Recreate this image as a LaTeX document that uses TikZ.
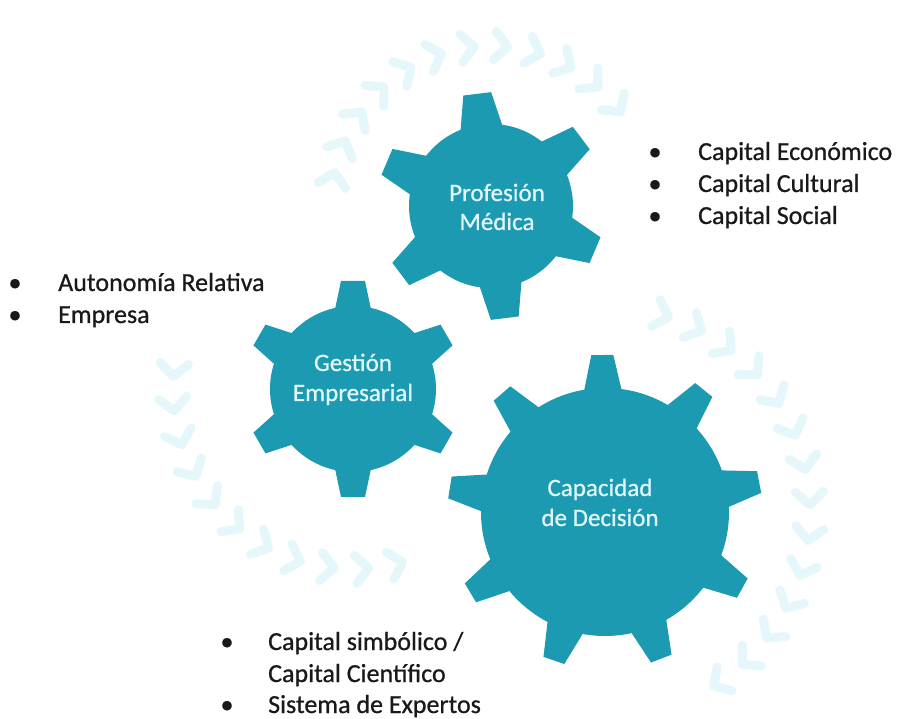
\documentclass[tikz,border=0pt]{standalone}
\usepackage{fontspec}
\setmainfont{Carlito}[RawFeature={embolden=0.7}]
\usetikzlibrary{calc}
\definecolor{gearteal}{RGB}{27,154,178}
\definecolor{gearlabel}{RGB}{226,247,251}
\definecolor{flowtint}{RGB}{229,247,251}

% #1 centre, #2 body radius, #3 tip radius, #4 teeth, #5 first tooth angle,
% #6 half width at tip, #7 half width at root
\newcommand\cogwheel[7]{%
  \begin{scope}[shift={#1}]
    \fill[gearfill] (0,0) circle[radius=#2pt];
    \foreach \k in {1,...,#4}{
      \fill[gearfill, rotate={#5+360/#4*(\k-1)}]
        ({#2-8},-#7) -- (#3,-#6) -- (#3,#6) -- ({#2-8},#7) -- cycle;
    }
  \end{scope}}

\begin{document}
\begin{tikzpicture}[x=1pt,y=1pt,
  gearfill/.style={fill=gearteal},
  geartext/.style={text=gearlabel, font=\fontsize{25}{30}\selectfont, anchor=base, inner sep=0pt},
  listtext/.style={text=black!90, font=\fontsize{26}{32}\selectfont, anchor=base west, inner sep=0pt},
  bulletmark/.style={text=black!90, font=\fontsize{26}{32}\selectfont, anchor=base, inner sep=0pt},
  chevron/.style={draw=flowtint, line width=9pt, line join=round, line cap=round}]

  \useasboundingbox (0,0) rectangle (897,718);
  \fill[white] (0,0) rectangle (897,718);

  \coordinate (g1) at (491,512);
  \coordinate (g2) at (353,329);
  \coordinate (g3) at (605,206);

  % faint circular flow of chevrons around each wheel
  \foreach \a in {168,156,...,36}
    \draw[chevron, shift={($(g1)+(\a:160)$)}, rotate=\a-90] (-13,14) -- (0,0) -- (-13,-14);
  \foreach \a in {72,62,...,-60}
    \draw[chevron, shift={($(g3)+(\a:205)$)}, rotate=\a-90] (-13,14) -- (0,0) -- (-13,-14);
  \foreach \a in {176,187,...,286}
    \draw[chevron, shift={($(g2)+(\a:180)$)}, rotate=\a+90] (-13,14) -- (0,0) -- (-13,-14);

  % wheels
  \cogwheel{(g1)}{82}{113}{6}{97}{14}{22}
  \cogwheel{(g2)}{83}{108}{6}{90}{12}{19}
  \cogwheel{(g3)}{124}{157}{9}{91}{11}{20}

  % wheel labels
  \node[geartext] (g1a) at (497,517) {Profesión};
  \node[geartext] (g1b) at (497,488) {Médica};
  \node[geartext] (g2a) at (353,347) {Gestión};
  \node[geartext] (g2b) at (353,317) {Empresarial};
  \node[geartext] (g3a) at (600,222) {Capacidad};
  \node[geartext] (g3b) at (600,192) {de Decisión};

  % list beside the top wheel
  \node[bulletmark] (r1b) at (655,558) {•};
  \node[listtext]   (r1)  at (698,558) {Capital Económico};
  \node[bulletmark] (r2b) at (655,526) {•};
  \node[listtext]   (r2)  at (698,526) {Capital Cultural};
  \node[bulletmark] (r3b) at (655,494) {•};
  \node[listtext]   (r3)  at (698,494) {Capital Social};

  % list beside the left wheel
  \node[bulletmark] (l1b) at (15,427) {•};
  \node[listtext]   (l1)  at (58,427) {Autonomía Relativa};
  \node[bulletmark] (l2b) at (15,395) {•};
  \node[listtext]   (l2)  at (58,395) {Empresa};

  % list below the wheels
  \node[bulletmark] (b1b) at (227,68) {•};
  \node[listtext]   (b1)  at (268,68) {Capital simbólico /};
  \node[listtext]   (b2)  at (268,36) {Capital Científico};
  \node[bulletmark] (b3b) at (227,5) {•};
  \node[listtext]   (b3)  at (268,5) {Sistema de Expertos};
\end{tikzpicture}
\end{document}
